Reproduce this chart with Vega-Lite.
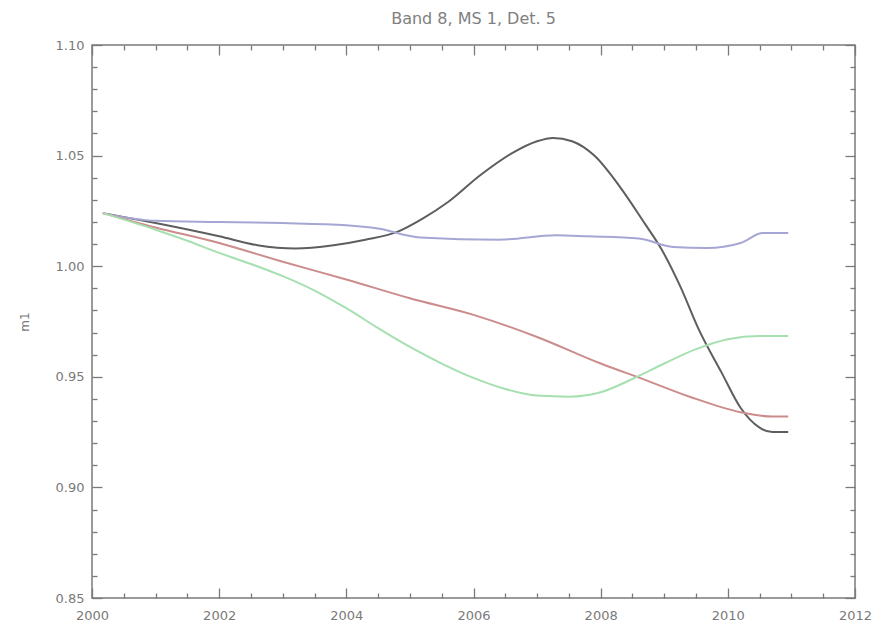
{
  "$schema": "https://vega.github.io/schema/vega-lite/v6.json",
  "width": 763,
  "height": 553,
  "autosize": {"type": "none"},
  "padding": {"left": 92, "top": 45, "right": 19, "bottom": 34},
  "background": "white",
  "title": {"text": "Band 8, MS 1, Det. 5", "fontSize": 16, "color": "#808080", "font": "DejaVu Sans", "fontWeight": "normal", "offset": 12},
  "config": {
    "view": {"stroke": "#7a7a7a", "strokeWidth": 1.5},
    "axis": {"grid": false, "domain": false, "tickColor": "#7a7a7a", "tickWidth": 1.3, "labelColor": "#7a7a7a", "labelFont": "DejaVu Sans", "labelFontSize": 13, "titleColor": "#7a7a7a", "titleFont": "DejaVu Sans", "titleFontSize": 12, "titleFontWeight": "normal"}
  },
  "data": {"values": [
    {"s": "black", "year": 2000.17, "v": 1.024},
    {"s": "black", "year": 2001.0, "v": 1.0195},
    {"s": "black", "year": 2002.0, "v": 1.0135},
    {"s": "black", "year": 2002.6, "v": 1.0095},
    {"s": "black", "year": 2003.2, "v": 1.008},
    {"s": "black", "year": 2003.8, "v": 1.0095},
    {"s": "black", "year": 2004.3, "v": 1.012},
    {"s": "black", "year": 2004.8, "v": 1.0155},
    {"s": "black", "year": 2005.2, "v": 1.0215},
    {"s": "black", "year": 2005.6, "v": 1.029},
    {"s": "black", "year": 2006.1, "v": 1.041},
    {"s": "black", "year": 2006.6, "v": 1.051},
    {"s": "black", "year": 2007.0, "v": 1.0565},
    {"s": "black", "year": 2007.25, "v": 1.058},
    {"s": "black", "year": 2007.55, "v": 1.0565},
    {"s": "black", "year": 2007.9, "v": 1.050},
    {"s": "black", "year": 2008.3, "v": 1.036},
    {"s": "black", "year": 2008.7, "v": 1.019},
    {"s": "black", "year": 2008.95, "v": 1.008},
    {"s": "black", "year": 2009.25, "v": 0.991},
    {"s": "black", "year": 2009.55, "v": 0.971},
    {"s": "black", "year": 2009.9, "v": 0.952},
    {"s": "black", "year": 2010.2, "v": 0.936},
    {"s": "black", "year": 2010.5, "v": 0.927},
    {"s": "black", "year": 2010.7, "v": 0.925},
    {"s": "black", "year": 2010.95, "v": 0.925},
    {"s": "blue", "year": 2000.17, "v": 1.024},
    {"s": "blue", "year": 2001.0, "v": 1.0205},
    {"s": "blue", "year": 2002.0, "v": 1.020},
    {"s": "blue", "year": 2003.0, "v": 1.0195},
    {"s": "blue", "year": 2004.0, "v": 1.0185},
    {"s": "blue", "year": 2004.5, "v": 1.017},
    {"s": "blue", "year": 2005.16, "v": 1.013},
    {"s": "blue", "year": 2006.4, "v": 1.012},
    {"s": "blue", "year": 2007.3, "v": 1.014},
    {"s": "blue", "year": 2007.8, "v": 1.0135},
    {"s": "blue", "year": 2008.6, "v": 1.0125},
    {"s": "blue", "year": 2009.14, "v": 1.0087},
    {"s": "blue", "year": 2009.67, "v": 1.0082},
    {"s": "blue", "year": 2010.2, "v": 1.0105},
    {"s": "blue", "year": 2010.55, "v": 1.015},
    {"s": "blue", "year": 2010.95, "v": 1.015},
    {"s": "red", "year": 2000.17, "v": 1.024},
    {"s": "red", "year": 2001.0, "v": 1.0175},
    {"s": "red", "year": 2002.0, "v": 1.0105},
    {"s": "red", "year": 2003.0, "v": 1.002},
    {"s": "red", "year": 2004.0, "v": 0.994},
    {"s": "red", "year": 2005.0, "v": 0.9855},
    {"s": "red", "year": 2006.0, "v": 0.978},
    {"s": "red", "year": 2007.0, "v": 0.968},
    {"s": "red", "year": 2008.0, "v": 0.956},
    {"s": "red", "year": 2008.7, "v": 0.9486},
    {"s": "red", "year": 2009.4, "v": 0.941},
    {"s": "red", "year": 2010.2, "v": 0.934},
    {"s": "red", "year": 2010.7, "v": 0.932},
    {"s": "red", "year": 2010.95, "v": 0.932},
    {"s": "green", "year": 2000.17, "v": 1.024},
    {"s": "green", "year": 2001.0, "v": 1.0165},
    {"s": "green", "year": 2001.5, "v": 1.0115},
    {"s": "green", "year": 2002.0, "v": 1.006},
    {"s": "green", "year": 2002.5, "v": 1.001},
    {"s": "green", "year": 2003.0, "v": 0.9955},
    {"s": "green", "year": 2003.5, "v": 0.989},
    {"s": "green", "year": 2004.0, "v": 0.981},
    {"s": "green", "year": 2004.5, "v": 0.972},
    {"s": "green", "year": 2005.0, "v": 0.9635},
    {"s": "green", "year": 2005.5, "v": 0.956},
    {"s": "green", "year": 2006.0, "v": 0.9495},
    {"s": "green", "year": 2006.5, "v": 0.9445},
    {"s": "green", "year": 2007.0, "v": 0.9415},
    {"s": "green", "year": 2007.5, "v": 0.941},
    {"s": "green", "year": 2008.0, "v": 0.943},
    {"s": "green", "year": 2008.5, "v": 0.949},
    {"s": "green", "year": 2009.0, "v": 0.956},
    {"s": "green", "year": 2009.5, "v": 0.9625},
    {"s": "green", "year": 2010.0, "v": 0.967},
    {"s": "green", "year": 2010.5, "v": 0.9685},
    {"s": "green", "year": 2010.95, "v": 0.9685}
  ]},
  "resolve": {"axis": {"x": "independent", "y": "independent"}},
  "layer": [
    {
      "mark": {"type": "line", "strokeWidth": 2, "interpolate": "monotone"},
      "encoding": {
        "x": {"field": "year", "type": "quantitative", "scale": {"domain": [2000, 2012], "nice": false, "zero": false},
              "axis": {"orient": "bottom", "values": [2000, 2002, 2004, 2006, 2008, 2010, 2012], "format": "d", "ticks": false, "labelPadding": 11, "title": null, "labelFlush": false}},
        "y": {"field": "v", "type": "quantitative", "scale": {"domain": [0.85, 1.10], "nice": false, "zero": false},
              "axis": {"orient": "left", "values": [0.85, 0.90, 0.95, 1.00, 1.05, 1.10], "format": ".2f", "ticks": false, "labelPadding": 8, "title": "m1", "titlePadding": 24, "labelFlush": false}},
        "color": {"field": "s", "type": "nominal", "legend": null,
                  "scale": {"domain": ["black", "blue", "red", "green"], "range": ["#5e5e5e", "#a6a6d4", "#cc8c8c", "#a6e0b0"]}},
        "order": {"field": "year"}
      }
    },
    {
      "mark": {"type": "line", "opacity": 0},
      "encoding": {
        "x": {"field": "year", "type": "quantitative", "axis": {"orient": "bottom", "values": [2000, 2002, 2004, 2006, 2008, 2010, 2012], "labels": false, "tickSize": -10, "title": null}},
        "y": {"field": "v", "type": "quantitative", "axis": {"orient": "left", "values": [0.85, 0.90, 0.95, 1.00, 1.05, 1.10], "labels": false, "tickSize": -10, "title": null}},
        "detail": {"field": "s"}
      }
    },
    {
      "mark": {"type": "line", "opacity": 0},
      "encoding": {
        "x": {"field": "year", "type": "quantitative", "axis": {"orient": "bottom", "values": [2000.5, 2001, 2001.5, 2002.5, 2003, 2003.5, 2004.5, 2005, 2005.5, 2006.5, 2007, 2007.5, 2008.5, 2009, 2009.5, 2010.5, 2011, 2011.5], "labels": false, "tickSize": -5, "title": null}},
        "y": {"field": "v", "type": "quantitative", "axis": {"orient": "left", "values": [0.86, 0.87, 0.88, 0.89, 0.91, 0.92, 0.93, 0.94, 0.96, 0.97, 0.98, 0.99, 1.01, 1.02, 1.03, 1.04, 1.06, 1.07, 1.08, 1.09], "labels": false, "tickSize": -5, "title": null}},
        "detail": {"field": "s"}
      }
    },
    {
      "mark": {"type": "line", "opacity": 0},
      "encoding": {
        "x": {"field": "year", "type": "quantitative", "axis": {"orient": "top", "values": [2000, 2002, 2004, 2006, 2008, 2010, 2012], "labels": false, "tickSize": -10, "title": null}},
        "y": {"field": "v", "type": "quantitative", "axis": {"orient": "right", "values": [0.85, 0.90, 0.95, 1.00, 1.05, 1.10], "labels": false, "tickSize": -10, "title": null}},
        "detail": {"field": "s"}
      }
    },
    {
      "mark": {"type": "line", "opacity": 0},
      "encoding": {
        "x": {"field": "year", "type": "quantitative", "axis": {"orient": "top", "values": [2000.5, 2001, 2001.5, 2002.5, 2003, 2003.5, 2004.5, 2005, 2005.5, 2006.5, 2007, 2007.5, 2008.5, 2009, 2009.5, 2010.5, 2011, 2011.5], "labels": false, "tickSize": -5, "title": null}},
        "y": {"field": "v", "type": "quantitative", "axis": {"orient": "right", "values": [0.86, 0.87, 0.88, 0.89, 0.91, 0.92, 0.93, 0.94, 0.96, 0.97, 0.98, 0.99, 1.01, 1.02, 1.03, 1.04, 1.06, 1.07, 1.08, 1.09], "labels": false, "tickSize": -5, "title": null}},
        "detail": {"field": "s"}
      }
    }
  ]
}
